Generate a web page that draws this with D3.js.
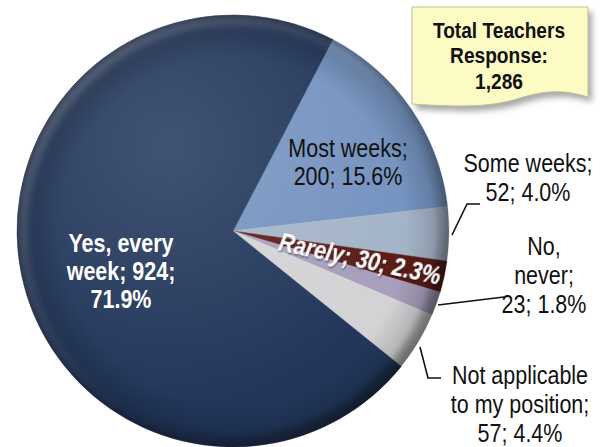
<!DOCTYPE html>
<html><head><meta charset="utf-8">
<script src="https://cdn.jsdelivr.net/npm/d3@7"></script>
<style>
html,body{margin:0;padding:0;background:#fff;}
svg{display:block;}
</style></head>
<body>
<svg id="chart" width="605" height="447"></svg>
<script>
// ---- data ----
const categories = ["Most weeks", "Some weeks", "Rarely", "No, never", "Not applicable to my position", "Yes, every week"];
const counts = [200, 52, 30, 23, 57, 924];
const percents = ["15.6%", "4.0%", "2.3%", "1.8%", "4.4%", "71.9%"];
const labelLines = [
  ["Most weeks;", "200; 15.6%"],
  ["Some weeks;", "52; 4.0%"],
  ["Rarely; 30; 2.3%"],
  ["No,", "never;", "23; 1.8%"],
  ["Not applicable", "to my position;", "57; 4.4%"],
  ["Yes, every", "week; 924;", "71.9%"]
];
const totalLines = ["Total Teachers", "Response:", "1,286"];
const colors = ["#7593c0", "#a4b4c8", "#5c1b17", "#a79fbb", "#d3d3d5", "#22375b"];

const svg = d3.select("#chart");
const cx = 233, cy = 231, R = 216;
const FONT = "'Liberation Sans', Arial, sans-serif";
const SX = 0.86; // horizontal condensation of the label face
const deg = Math.PI / 180;
const start = 27.5 * deg;

const defs = svg.append("defs");
const edge = defs.append("radialGradient").attr("id", "edge").attr("cx", "50%").attr("cy", "50%").attr("r", "50%");
edge.append("stop").attr("offset", "0%").attr("stop-color", "#000").attr("stop-opacity", 0);
edge.append("stop").attr("offset", "80%").attr("stop-color", "#000").attr("stop-opacity", 0);
edge.append("stop").attr("offset", "97%").attr("stop-color", "#000").attr("stop-opacity", 0.18);
edge.append("stop").attr("offset", "100%").attr("stop-color", "#000").attr("stop-opacity", 0.35);
const hl = defs.append("radialGradient").attr("id", "hl").attr("cx", "35%").attr("cy", "30%").attr("r", "60%");
hl.append("stop").attr("offset", "0%").attr("stop-color", "#fff").attr("stop-opacity", 0.14);
hl.append("stop").attr("offset", "100%").attr("stop-color", "#fff").attr("stop-opacity", 0);
const rim = defs.append("linearGradient").attr("id", "rim").attr("x1", "0%").attr("y1", "0%").attr("x2", "100%").attr("y2", "100%");
rim.append("stop").attr("offset", "0%").attr("stop-color", "#fff").attr("stop-opacity", 0.22);
rim.append("stop").attr("offset", "45%").attr("stop-color", "#fff").attr("stop-opacity", 0.05);
rim.append("stop").attr("offset", "60%").attr("stop-color", "#000").attr("stop-opacity", 0.05);
rim.append("stop").attr("offset", "100%").attr("stop-color", "#000").attr("stop-opacity", 0.45);
defs.append("filter").attr("id", "blur3").append("feGaussianBlur").attr("stdDeviation", 3);
const sh = defs.append("filter").attr("id", "shadow").attr("x", "-20%").attr("y", "-20%").attr("width", "150%").attr("height", "150%");
sh.append("feGaussianBlur").attr("stdDeviation", 3);
const ts = defs.append("filter").attr("id", "tshadow").attr("x", "-10%").attr("y", "-30%").attr("width", "120%").attr("height", "160%");
ts.append("feDropShadow").attr("dx", 1).attr("dy", 1).attr("stdDeviation", 0.8).attr("flood-color", "#000").attr("flood-opacity", 0.6);

const clip = defs.append("clipPath").attr("id", "pieclip");
clip.append("circle").attr("cx", cx).attr("cy", cy).attr("r", R);

const data = categories.map((c, i) => ({ cat: c, count: counts[i], pct: percents[i], lines: labelLines[i], color: colors[i] }));
const pie = d3.pie().sort(null).value(d => d.count).startAngle(start).endAngle(start + 2 * Math.PI);
const arcs = pie(data);
const arc = d3.arc().innerRadius(0).outerRadius(R);

const g = svg.append("g").attr("transform", `translate(${cx},${cy})`);
g.selectAll("path.slice").data(arcs).join("path")
  .attr("class", "slice").attr("d", arc).attr("fill", d => d.data.color)
  .attr("stroke", d => d.data.color).attr("stroke-width", 0.5);

const ov = svg.append("g").attr("clip-path", "url(#pieclip)");
ov.append("circle").attr("cx", cx).attr("cy", cy).attr("r", R).attr("fill", "url(#hl)");
ov.append("circle").attr("cx", cx).attr("cy", cy).attr("r", R).attr("fill", "url(#edge)");
ov.append("circle").attr("cx", cx).attr("cy", cy).attr("r", R - 5).attr("fill", "none")
  .attr("stroke", "url(#rim)").attr("stroke-width", 12).attr("filter", "url(#blur3)");

// ---- labels ----
function block(x, y0, lines, lh, opts) {
  const t = svg.append("text").attr("text-anchor", "middle").attr("font-family", FONT)
    .attr("transform", `translate(${x},0) scale(${opts.sx || SX},1)`)
    .attr("font-size", opts.size).attr("fill", opts.fill)
    .attr("font-weight", opts.bold ? "bold" : "normal");
  lines.forEach((s, i) => t.append("tspan").attr("x", 0).attr("y", y0 + i * lh).text(s));
  return t;
}
const byCat = Object.fromEntries(arcs.map(a => [a.data.cat, a]));

block(348, 157, byCat["Most weeks"].data.lines, 28, { size: 25, fill: "#111" });
block(121, 252, byCat["Yes, every week"].data.lines, 28, { size: 25, fill: "#fff", bold: true });
{
  const a = byCat["Rarely"];
  const mid = (a.startAngle + a.endAngle) / 2;
  const r = 130;
  const x = cx + r * Math.sin(mid), y = cy - r * Math.cos(mid);
  const rot = mid / deg - 90;
  svg.append("text").attr("transform", `translate(${x},${y}) rotate(${rot}) scale(${SX},1)`)
    .attr("text-anchor", "middle").attr("dy", "0.35em")
    .attr("font-family", FONT).attr("font-size", 25).attr("font-weight", "bold").attr("font-style", "italic")
    .attr("fill", "#fff").attr("filter", "url(#tshadow)").text(a.data.lines[0]);
}
block(528, 172, byCat["Some weeks"].data.lines, 29, { size: 25, fill: "#111" });
block(544, 255, byCat["No, never"].data.lines, 29, { size: 25, fill: "#111" });
block(520, 384, byCat["Not applicable to my position"].data.lines, 29, { size: 25, fill: "#111" });

const leaders = [
  [[452, 235], [467, 204], [480, 204]],
  [[438, 305], [504, 297]],
  [[420, 347], [428, 378], [441, 378]]
];
svg.selectAll("path.leader").data(leaders).join("path").attr("class", "leader")
  .attr("d", d3.line()).attr("fill", "none").attr("stroke", "#111").attr("stroke-width", 1.6);

// ---- total note ----
const notePath = "M412,7 L588,7 L588,97 C560,88 540,92 520,98 C495,106 470,108 412,104 Z";
svg.append("path").attr("d", notePath).attr("transform", "translate(4,5)").attr("fill", "#000").attr("opacity", 0.35).attr("filter", "url(#shadow)");
svg.append("path").attr("d", notePath).attr("fill", "#fdfbc4").attr("stroke", "#c2c09a").attr("stroke-width", 1);
block(499, 38, totalLines, 25.5, { size: 22, fill: "#111", bold: true, sx: 0.87 });
</script>
</body></html>
